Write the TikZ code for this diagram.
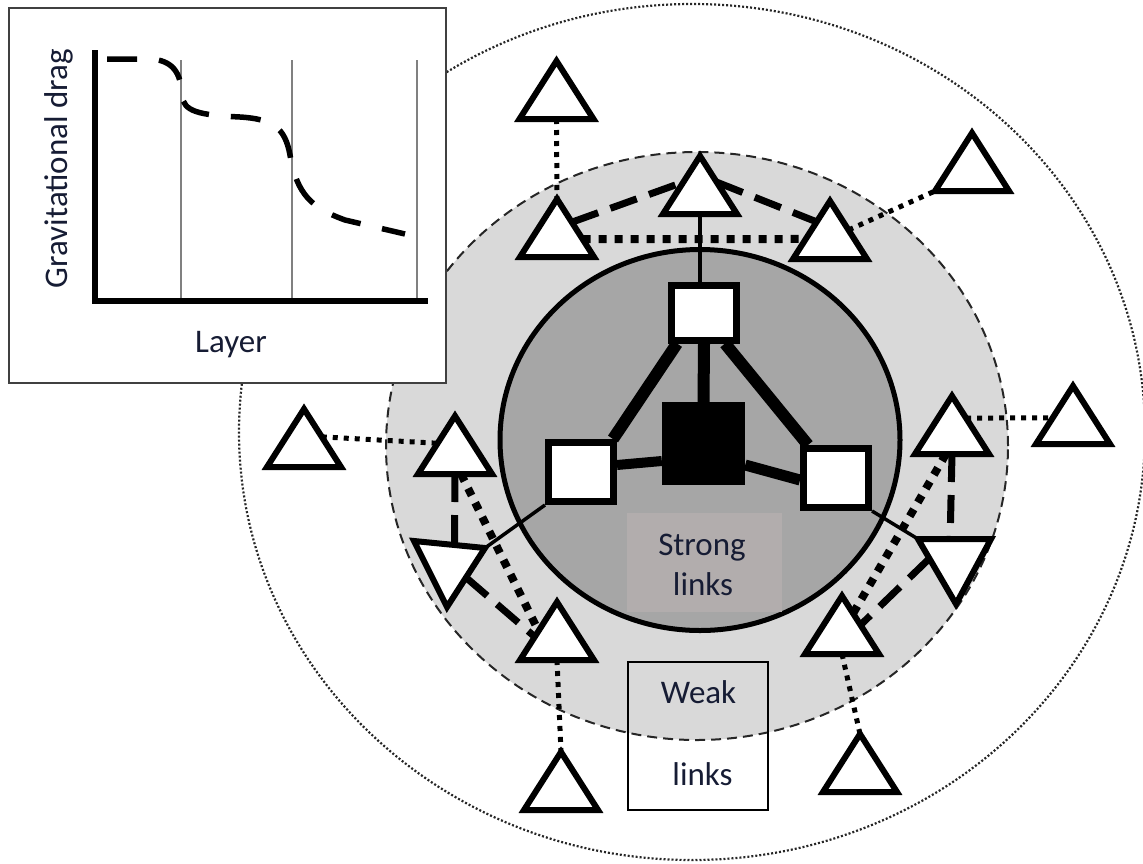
\documentclass[tikz,border=0pt]{standalone}
\usepackage{fontspec}
\setmainfont{Carlito}
\usetikzlibrary{calc}
\definecolor{band}{RGB}{217,217,217}
\definecolor{core}{RGB}{166,166,166}
\definecolor{slbg}{RGB}{178,173,173}
\definecolor{txt}{RGB}{22,28,52}
\definecolor{framec}{RGB}{64,64,64}
\definecolor{gridc}{RGB}{128,128,128}
\pgfdeclarelayer{bgl}
\pgfdeclarelayer{lines}
\pgfsetlayers{bgl,lines,main}
\newcommand\tridef[3]{%
  \coordinate (#1-a) at (#2,#3-58);
  \coordinate (#1-l) at (#2-37,#3);
  \coordinate (#1-r) at (#2+37,#3);
  \coordinate (#1-b) at (#2,#3);}
\newcommand\tridraw[1]{\draw[trig] (#1-a)--(#1-l)--(#1-r)--cycle;}
\begin{document}
\begin{tikzpicture}[x=1pt,y=-1pt,
  trig/.style={draw=black, line width=6pt, fill=white, line join=miter},
  wsq/.style={draw=black, line width=7pt, fill=white, inner sep=0pt},
  link/.style={draw=black, line cap=butt},
  thinl/.style={draw=black, line width=3.5pt},
  dotout/.style={draw=black, line width=5pt, dash pattern=on 5pt off 6pt},
  dotin/.style={draw=black, line width=8pt, dash pattern=on 8pt off 8pt},
  dashin/.style={draw=black, line width=7pt, dash pattern=on 28pt off 13pt},
  lbl/.style={font=\fontsize{33}{40}\selectfont, text=txt, inner sep=0pt, anchor=base},
]
\useasboundingbox (0,0) rectangle (1143,863);
\begin{pgfonlayer}{bgl}
\draw[black!85, line width=2.2pt, dash pattern=on 2pt off 2pt] (692,432) ellipse [x radius=453pt, y radius=428pt];
\draw[fill=band, draw=black!85, line width=2pt, dash pattern=on 10pt off 6pt] (697,446) ellipse [x radius=311pt, y radius=294pt];
\draw[fill=core, draw=black, line width=5pt] (700,440) ellipse [x radius=200pt, y radius=190.5pt];
\node[fill=slbg, minimum width=155pt, minimum height=99pt, inner sep=0pt] (slbox) at (704.5,562.5) {};
\end{pgfonlayer}

% labels in the core and band
\node[lbl] (strong) at (702,555) {Strong};
\node[lbl] (strlinks) at (703,595) {links};
\node[draw=black, line width=1.5pt, minimum width=140pt, minimum height=148pt, inner sep=0pt] (weakbox) at (698,736) {};
\node[lbl] (weak) at (698.5,703) {Weak};
\node[lbl] (weaklinks) at (702.5,785) {links};

% squares
\node[wsq, minimum width=65pt, minimum height=55pt] (sqT) at (704,312.5) {};
\node[wsq, minimum width=65pt, minimum height=59pt] (sqL) at (581,472) {};
\node[wsq, minimum width=65pt, minimum height=59pt] (sqR) at (836,478) {};
\node[fill=black, minimum size=83pt, inner sep=0pt] (blk) at (703.5,443.5) {};

% triangles (coordinates)
\tridef{T1}{556.5}{119}
\tridef{T2}{700}{214}
\tridef{T3}{557}{257}
\tridef{T4}{830}{259}
\tridef{T5}{972}{191}
\tridef{T6}{304}{467}
\tridef{T7}{455}{474}
\tridef{T9}{557}{660}
\tridef{T10}{561}{810}
\tridef{T11}{952}{454}
\tridef{T12}{1073}{444}
\tridef{T14}{842}{654}
\tridef{T15}{860}{792}
\coordinate (T8-l) at (414,541);
\coordinate (T8-r) at (485,548);
\coordinate (T8-b) at (447,607);
\coordinate (T13-l) at (918,539);
\coordinate (T13-r) at (991,539);
\coordinate (T13-b) at (956,604);

\begin{pgfonlayer}{lines}
% strong links
\draw[link, line width=12pt] (sqT.south) -- (blk.north);
\draw[link, line width=12pt] ([xshift=-4pt]sqL.north east) -- ([xshift=9pt]sqT.south west);
\draw[link, line width=12pt] ([xshift=-15pt]sqT.south east) -- ([xshift=8pt]sqR.north west);
\draw[link, line width=10pt] ([yshift=7pt]sqL.east) -- ([yshift=-17.5pt]blk.west);
\draw[link, line width=11pt] ([yshift=-21.5pt]blk.east) -- ([yshift=-2pt]sqR.west);
% thin links
\draw[thinl] (T2-b) -- (T2-b |- sqT.north);
\draw[thinl] (sqL.south west) -- (T8-r);
\draw[thinl] (sqR.south east) -- (T13-l);
% top cluster
\draw[dotout] (T1-b) -- (T3-a);
\draw[dashin] ($(T3-a)!.4!(T3-r)$) -- ($(T2-a)!.45!(T2-l)$);
\draw[dashin] ($(T2-a)!.45!(T2-r)$) -- ($(T4-a)!.36!(T4-l)$);
\draw[dotin] ($(T3-a)!.69!(T3-r)$) -- ($(T4-a)!.655!(T4-l)$);
\draw[dotout] ($(T4-a)!.5!(T4-r)$) -- (T5-l);
% left cluster
\draw[dotout] ($(T6-a)!.48!(T6-r)$) -- ($(T7-a)!.47!(T7-l)$);
\draw[dashin] (T7-b) -- ($(T8-l)!.57!(T8-r)$);
\draw[dotin] ($(T7-b)+(6,0)$) -- ($(T9-a)!.5!(T9-l)$);
\draw[dashin] ($(T8-r)!.5!(T8-b)$) -- ($(T9-a)!.6!(T9-l)$);
\draw[dotout] (T9-b) -- (T10-a);
% right cluster
\draw[dotout] ($(T11-a)!.38!(T11-r)$) -- ($(T12-a)!.55!(T12-l)$);
\draw[dashin] (T11-b) -- ($(T13-l)!.44!(T13-r)$);
\draw[dotin] ($(T11-b)+(-6,0)$) -- ($(T14-a)!.3!(T14-r)$);
\draw[dashin] ($(T13-l)!.3!(T13-b)$) -- ($(T14-a)!.5!(T14-r)$);
\draw[dotout] (T14-b) -- (T15-a);
\end{pgfonlayer}

% triangles on top
\foreach \t in {T1,T2,T3,T4,T5,T6,T7,T9,T10,T11,T12,T14,T15}{\tridraw{\t}}
\draw[trig] (T8-l)--(T8-r)--(T8-b)--cycle;
\draw[trig] (T13-l)--(T13-r)--(T13-b)--cycle;

% inset plot
\node[draw=framec, fill=white, line width=2pt, minimum width=437pt, minimum height=375pt, inner sep=0pt] (inset) at (227.5,195.5) {};
\draw[gridc, line width=2.5pt] (181,60) -- (181,301);
\draw[gridc, line width=2.5pt] (292,60) -- (292,301);
\draw[gridc, line width=2.5pt] (417,60) -- (417,301);
\draw[line width=5.5pt, line join=miter] (95,50) -- (95,301) -- (428,301);
\draw[line width=5.5pt, dash pattern=on 30pt off 22pt]
  (107,59) -- (150,59) .. controls (172,60) and (181,72) .. (182,95)
  .. controls (183,112) and (200,115) .. (240,117)
  .. controls (272,119) and (285,127) .. (290,155)
  .. controls (297,195) and (312,208) .. (345,220) -- (405,234);
\node[lbl, rotate=90] (ylab) at (67,168.5) {Gravitational drag};
\node[lbl] (xlab) at (231,352) {Layer};
\end{tikzpicture}
\end{document}
